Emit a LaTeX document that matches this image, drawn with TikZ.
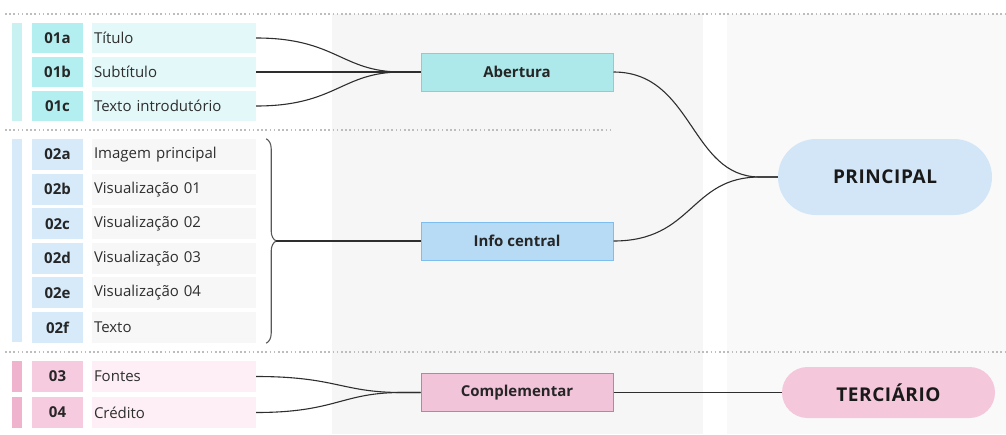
\documentclass[tikz,border=0pt]{standalone}
\usepackage{fontspec}
\setmainfont{Open Sans}
\usetikzlibrary{backgrounds, decorations.pathreplacing}
\definecolor{panel}{HTML}{F6F6F6}
\definecolor{panelb}{HTML}{F9F9F9}
\definecolor{dots}{HTML}{BDBDBD}
\definecolor{ink}{HTML}{2E2E2E}
\definecolor{cabar}{HTML}{C8F1F2}
\definecolor{calbl}{HTML}{B3EEF0}
\definecolor{catxt}{HTML}{E3F8F8}
\definecolor{cbbar}{HTML}{D6EAFA}
\definecolor{cblbl}{HTML}{D6EAFA}
\definecolor{cbtxt}{HTML}{F7F7F7}
\definecolor{ccbar}{HTML}{F0B3CE}
\definecolor{cclbl}{HTML}{F7CBDF}
\definecolor{cctxt}{HTML}{FDEFF5}
\definecolor{abfill}{HTML}{ADE9EA}
\definecolor{abline}{HTML}{6FDADC}
\definecolor{icfill}{HTML}{B8DBF5}
\definecolor{icline}{HTML}{7DBDF0}
\definecolor{cofill}{HTML}{F2C4D9}
\definecolor{coline}{HTML}{E0709F}
\definecolor{prfill}{HTML}{D3E6F7}
\definecolor{tefill}{HTML}{F4C7DB}

\begin{document}
\begin{tikzpicture}[
    x=1pt, y=-1pt,
    sidebar/.style={minimum width=10pt, inner sep=0pt},
    lbl/.style={minimum width=51pt, minimum height=30pt, inner sep=0pt,
      text=black!85, font=\bfseries\fontsize{15}{18}\selectfont},
    item/.style={text width=160pt, inner xsep=2pt, inner ysep=0pt,
      minimum height=30pt, align=left, text=ink,
      font=\fontsize{15}{18}\selectfont},
    hub/.style={minimum width=192pt, minimum height=38pt, inner sep=0pt,
      line width=1pt, text=black!85, font=\bfseries\fontsize{15}{18}\selectfont},
    pill/.style={inner sep=0pt, text=black!90,
      font=\bfseries\fontsize{19}{22}\selectfont\addfontfeatures{LetterSpace=3}},
    link/.style={draw=ink, line width=1.1pt},
    sep/.style={draw=dots, line width=1.6pt, dash pattern=on 1.6pt off 2.6pt}
]
  \useasboundingbox (0,0) rectangle (1006,434);

  % Gray columns behind the hubs
  \fill[panel] (332,14) rectangle (703,434);
  \fill[panelb] (727,14) rectangle (1006,434);

  % Dotted separators
  \draw[sep] (5,14) -- (1006,14);
  \draw[sep] (5,130) -- (613,130);
  \draw[sep] (5,352) -- (1006,352);

  % Block 01
  \node[sidebar, fill=cabar, minimum height=98pt] (bar1) at (17,72) {};
  \foreach \id/\txt/\y in {01a/Título/38, 01b/Subtítulo/72, 01c/Texto introdutório/106} {
    \node[lbl, fill=calbl] (l\id) at (57.5,\y) {\id};
    \node[item, fill=catxt] (t\id) at (174,\y) {\txt};
  }

  % Block 02
  \node[sidebar, fill=cbbar, minimum height=203pt] (bar2) at (17,240.5) {};
  \foreach \id/\txt [count=\i from 0] in {02a/Imagem principal, 02b/Visualização 01,
      02c/Visualização 02, 02d/Visualização 03, 02e/Visualização 04, 02f/Texto} {
    \pgfmathsetmacro\y{154.5+34.6*\i}
    \node[lbl, fill=cblbl, minimum height=31pt] (l\id) at (57.5,\y) {\id};
    \node[item, fill=cbtxt, minimum height=31pt] (t\id) at (174,\y) {\txt};
  }

  % Block 03
  \foreach \id/\txt/\y in {03/Fontes/376.5, 04/Crédito/412.5} {
    \node[sidebar, fill=ccbar, minimum height=31pt] (b\id) at (17,\y) {};
    \node[lbl, fill=cclbl, minimum height=31pt] (l\id) at (57.5,\y) {\id};
    \node[item, fill=cctxt, minimum height=31pt] (t\id) at (174,\y) {\txt};
  }

  % Hubs
  \node[hub, fill=abfill, draw=abline] (abertura) at (517,72) {Abertura};
  \node[hub, fill=icfill, draw=icline] (info) at (517,241) {Info central};
  \node[hub, fill=cofill, draw=coline] (compl) at (517,392.5) {Complementar};

  % Pills
  \node[pill, fill=prfill, minimum width=214pt, minimum height=76pt,
    rounded corners=38pt] (principal) at (885,177) {PRINCIPAL};
  \node[pill, fill=tefill, minimum width=213pt, minimum height=51pt,
    rounded corners=25.5pt] (terciario) at (888.5,392.5) {TERCIÁRIO};

  % Links into the hubs
  \foreach \id in {01a,01b,01c}
    \draw[link] (t\id.east) .. controls +(80,0) and +(-60,0) .. ([xshift=-19pt]abertura.west) -- (abertura.west);
  \foreach \id in {03,04}
    \draw[link] (t\id.east) .. controls +(80,0) and +(-60,0) .. ([xshift=-19pt]compl.west) -- (compl.west);

  % Brace over block 02
  \draw[ink!80, line width=1.1pt, decorate, decoration={brace, amplitude=10pt}]
    ([xshift=10pt]t02a.north east) -- ([xshift=10pt]t02f.south east);
  \path (t02a.north east) -- (t02f.south east) coordinate[pos=0.5] (mid);
  \coordinate (tip) at ([xshift=20pt]mid);
  \draw[link] (tip) -- (info.west);

  % Links to the pills
  \foreach \h in {abertura,info}
    \draw[link] (\h.east) .. controls +(80,0) and +(-70,0) .. ([xshift=-18pt]principal.west) -- (principal.west);
  \draw[link] (compl.east) -- (terciario.west);
\end{tikzpicture}
\end{document}
